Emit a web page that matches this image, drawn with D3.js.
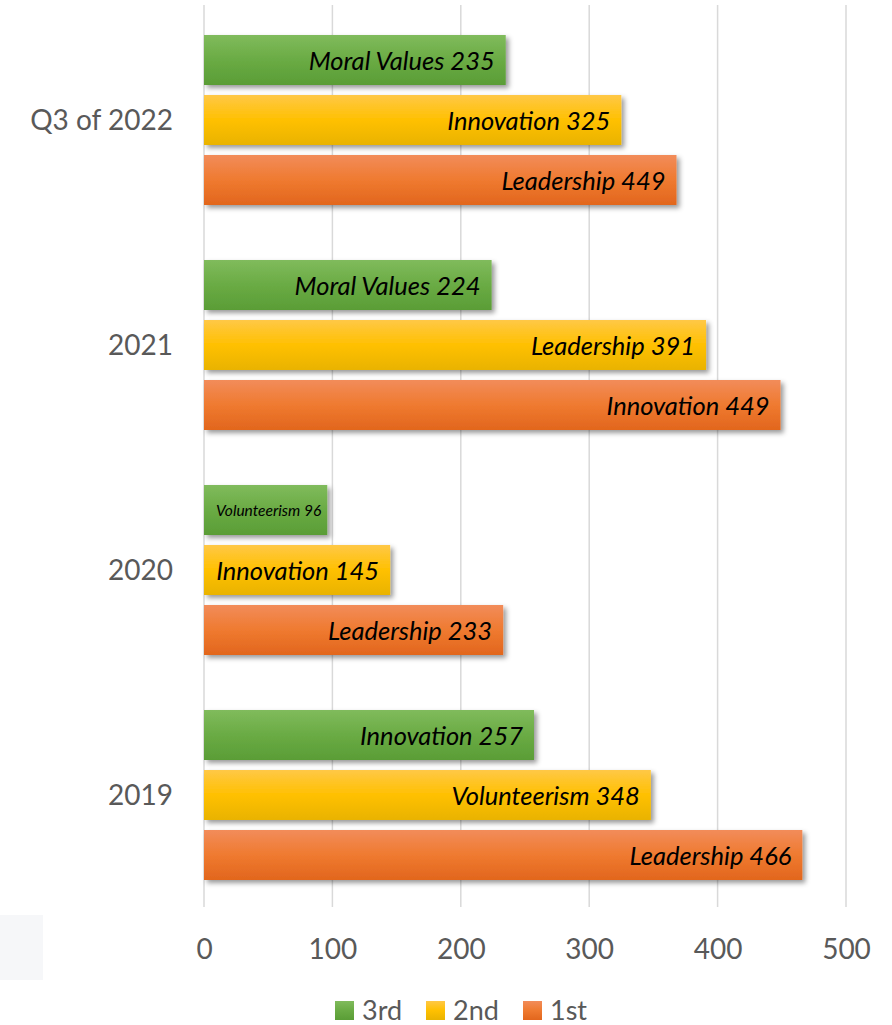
<!DOCTYPE html>
<html>
<head>
<meta charset="utf-8">
<script src="https://cdn.jsdelivr.net/npm/d3@7"></script>
<style>
  body { margin: 0; background: #fff; }
  text { font-family: Lato, "Open Sans", sans-serif; }
</style>
</head>
<body>
<svg></svg>
<script>
const width = 892;
const height = 1025;

// datos
const groups = ["Q3 of 2022", "2021", "2020", "2019"];
const ranks = ["3rd", "2nd", "1st"];
const thirdValues = [235, 224, 96, 257];
const secondValues = [325, 391, 145, 348];
const firstValues = [368, 449, 233, 466];
const thirdLabels = ["Moral Values 235", "Moral Values 224", "Volunteerism 96", "Innovation 257"];
const secondLabels = ["Innovation 325", "Leadership 391", "Innovation 145", "Volunteerism 348"];
const firstLabels = ["Leadership 449", "Innovation 449", "Leadership 233", "Leadership 466"];
const xTicks = [0, 100, 200, 300, 400, 500];

const rows = [];
groups.forEach((g, i) => {
  rows.push({ group: g, rank: "3rd", value: thirdValues[i], label: thirdLabels[i] });
  rows.push({ group: g, rank: "2nd", value: secondValues[i], label: secondLabels[i] });
  rows.push({ group: g, rank: "1st", value: firstValues[i], label: firstLabels[i] });
});

const svg = d3.select("svg")
  .attr("width", width)
  .attr("height", height);

svg.append("rect").attr("width", width).attr("height", height).attr("fill", "#fff");

// gradientes y sombra
const defs = svg.append("defs");
const grads = {
  "3rd": ["#80bb5c", "#6aab44", "#5a9d36"],
  "2nd": ["#ffc846", "#ffc000", "#e9b300"],
  "1st": ["#f28c5a", "#ef7a30", "#e2661d"]
};
Object.entries(grads).forEach(([k, c]) => {
  const lg = defs.append("linearGradient")
    .attr("id", "g" + k)
    .attr("x1", 0).attr("y1", 0).attr("x2", 0).attr("y2", 1);
  lg.append("stop").attr("offset", "0%").attr("stop-color", c[0]);
  lg.append("stop").attr("offset", "50%").attr("stop-color", c[1]);
  lg.append("stop").attr("offset", "100%").attr("stop-color", c[2]);
});
const f = defs.append("filter").attr("id", "shadow")
  .attr("x", "-10%").attr("y", "-20%").attr("width", "130%").attr("height", "160%");
f.append("feDropShadow")
  .attr("dx", 3).attr("dy", 3).attr("stdDeviation", 2.5)
  .attr("flood-color", "#000").attr("flood-opacity", 0.4);

const x = d3.scaleLinear()
  .domain([0, 500])
  .range([204, 846]);

const y = d3.scaleBand()
  .domain(groups)
  .range([7.5, 907.5])
  .paddingInner(55 / 225)
  .paddingOuter(27.5 / 225);

const ySub = d3.scaleBand()
  .domain(ranks)
  .range([0, y.bandwidth()])
  .paddingInner(1 / 6)
  .paddingOuter(0);

// lineas de grilla
svg.append("g")
  .selectAll("line")
  .data(xTicks)
  .join("line")
  .attr("x1", d => x(d)).attr("x2", d => x(d))
  .attr("y1", 5).attr("y2", 907)
  .attr("stroke", "#d9d9d9")
  .attr("stroke-width", 1.5);

// Eje X
const xAxis = d3.axisBottom(x).tickValues(xTicks).tickSize(0).tickPadding(0);
const gx = svg.append("g")
  .attr("transform", "translate(0,937)")
  .call(xAxis);
gx.select(".domain").remove();
gx.selectAll(".tick text")
  .attr("y", 0)
  .attr("dy", "0.78em")
  .attr("fill", "#595959")
  .style("font-family", "Lato, sans-serif")
  .style("font-size", "28px");

// Eje Y
const yAxis = d3.axisLeft(y).tickSize(0).tickPadding(0);
const gy = svg.append("g")
  .attr("transform", "translate(173,0)")
  .call(yAxis);
gy.select(".domain").remove();
gy.selectAll(".tick text")
  .attr("x", 0)
  .attr("dy", "0.36em")
  .attr("fill", "#595959")
  .style("font-family", "Lato, sans-serif")
  .style("font-size", "28px");

// Barras
const bars = svg.append("g").selectAll("g")
  .data(rows)
  .join("g")
  .attr("transform", d => `translate(0,${y(d.group) + ySub(d.rank)})`);

bars.append("rect")
  .attr("x", x(0))
  .attr("y", 0)
  .attr("width", d => x(d.value) - x(0))
  .attr("height", ySub.bandwidth())
  .attr("fill", d => `url(#g${d.rank})`)
  .attr("filter", "url(#shadow)");

bars.append("text")
  .attr("x", d => x(d.value) - 11)
  .attr("y", ySub.bandwidth() / 2)
  .attr("dy", "0.38em")
  .attr("text-anchor", "end")
  .style("font-style", "italic")
  .style("font-size", "25.5px")
  .attr("fill", "#000")
  .text(d => d.label)
  .each(function(d) {
    const room = x(d.value) - x(0) - 18;
    const w = this.getComputedTextLength();
    if (w > room) {
      d3.select(this).style("font-size", (25.5 * room / w) + "px")
        .attr("x", x(d.value) - 6);
    }
  });

// recuadro gris
svg.append("rect")
  .attr("x", 0).attr("y", 915)
  .attr("width", 43).attr("height", 65)
  .attr("fill", "#f6f7f9");

// Leyenda
const legendX = [335, 426, 523];
const legend = svg.append("g").selectAll("g")
  .data(ranks)
  .join("g")
  .attr("transform", (d, i) => `translate(${legendX[i]},1001)`);
legend.append("rect")
  .attr("width", 19).attr("height", 19)
  .attr("fill", d => `url(#g${d})`);
legend.append("text")
  .attr("x", 27)
  .attr("y", 19)
  .attr("fill", "#595959")
  .style("font-size", "27px")
  .text(d => d);
</script>
</body>
</html>
